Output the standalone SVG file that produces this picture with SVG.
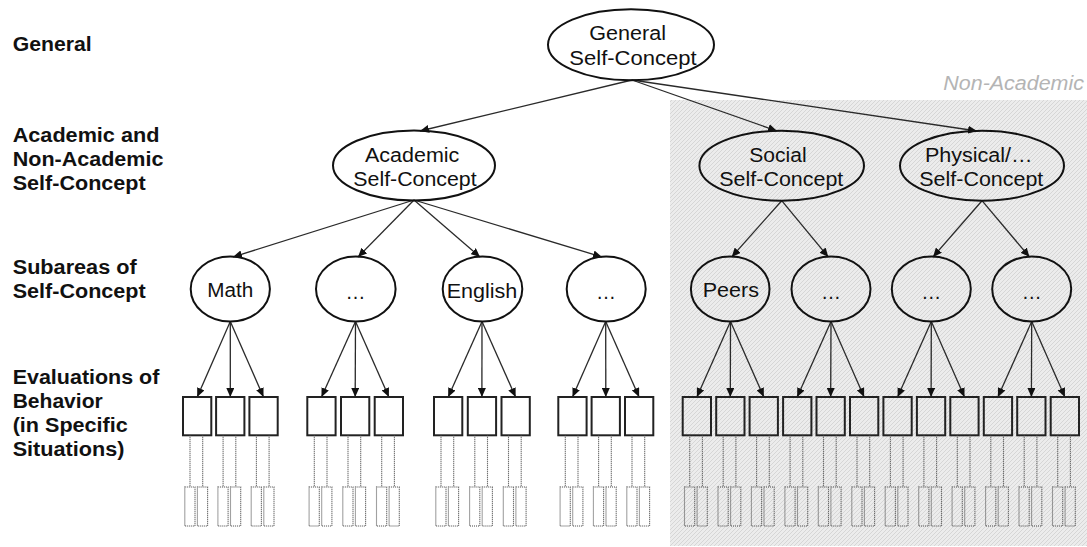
<svg xmlns="http://www.w3.org/2000/svg" xmlns:xlink="http://www.w3.org/1999/xlink" width="1087" height="547" viewBox="0 0 1087 547">
  <style>
    .lbl { font-family: "Liberation Sans", Arial, sans-serif; font-size: 20px; font-weight: bold; fill: #111; }
    .txt { font-family: "Liberation Sans", Arial, sans-serif; font-size: 20px; fill: #111; text-anchor: middle; }
    .cap { font-family: "Liberation Sans", Arial, sans-serif; font-size: 20px; font-style: italic; fill: #b4b4b4; text-anchor: end; }
    .node { fill: none; stroke: #111; stroke-width: 2; }
    .box { fill: none; stroke: #222; stroke-width: 2; }
    .dot { fill: none; stroke: #444; stroke-width: 1.1; stroke-dasharray: 1 1; }
    .edge { fill: none; stroke: #2a2a2a; stroke-width: 1.3; marker-end: url(#ah); }
  </style>
  <defs>
    <marker id="ah" markerWidth="10" markerHeight="8" refX="9" refY="4" orient="auto" markerUnits="userSpaceOnUse">
      <path d="M0,0 L9,4 L0,8 z" fill="#111"/>
    </marker>
    <pattern id="hatch" width="4" height="4" patternUnits="userSpaceOnUse">
      <rect width="4" height="4" fill="#ececec"/>
      <path d="M-1,1 l2,-2 M0,4 l4,-4 M3,5 l2,-2" stroke="#d6d6d6" stroke-width="1"/>
    </pattern>
    <!-- one behaviour evaluation: solid box plus its dotted situation boxes -->
    <g id="item">
      <rect class="box" x="0" y="397" width="28.3" height="38.3"/>
      <path class="dot" d="M7,435.3 V487 M19.7,435.3 V487"/>
      <rect class="dot" x="1.8" y="487" width="10.2" height="39"/>
      <rect class="dot" x="14.4" y="487" width="10.2" height="39"/>
    </g>
  </defs>

  <!-- non-academic background area -->
  <rect x="670" y="100" width="417" height="446" fill="url(#hatch)"/>
  <text class="cap" x="1084" y="90" textLength="140.7" lengthAdjust="spacingAndGlyphs">Non-Academic</text>

  <!-- level labels -->
  <g id="levels">
    <text class="lbl" x="12.7" y="50.7" textLength="79" lengthAdjust="spacingAndGlyphs">General</text>
    <text class="lbl" x="12.7" y="141.7" textLength="146.7" lengthAdjust="spacingAndGlyphs">Academic and</text>
    <text class="lbl" x="12.7" y="165.7" textLength="150.7" lengthAdjust="spacingAndGlyphs">Non-Academic</text>
    <text class="lbl" x="12.7" y="189.5" textLength="133" lengthAdjust="spacingAndGlyphs">Self-Concept</text>
    <text class="lbl" x="12.7" y="274" textLength="124" lengthAdjust="spacingAndGlyphs">Subareas of</text>
    <text class="lbl" x="12.7" y="297.7" textLength="133" lengthAdjust="spacingAndGlyphs">Self-Concept</text>
    <text class="lbl" x="12.7" y="384.3" textLength="146.7" lengthAdjust="spacingAndGlyphs">Evaluations of</text>
    <text class="lbl" x="12.7" y="408.3" textLength="90" lengthAdjust="spacingAndGlyphs">Behavior</text>
    <text class="lbl" x="12.7" y="432.3" textLength="115" lengthAdjust="spacingAndGlyphs">(in Specific</text>
    <text class="lbl" x="12.7" y="456" textLength="111.7" lengthAdjust="spacingAndGlyphs">Situations)</text>
  </g>

  <!-- connectors -->
  <g id="connectors">
    <path class="edge" d="M632,80 L420,131"/>
    <path class="edge" d="M632,80 L777,131"/>
    <path class="edge" d="M632,80 L977,131"/>

    <path class="edge" d="M414,200 L233,257"/>
    <path class="edge" d="M414,200 L358,257"/>
    <path class="edge" d="M414,200 L480,257"/>
    <path class="edge" d="M414,200 L602,257"/>

    <path class="edge" d="M781.7,200.7 L731.7,257"/>
    <path class="edge" d="M781.7,200.7 L828.3,257"/>
    <path class="edge" d="M982,200.7 L933,257"/>
    <path class="edge" d="M982,200.7 L1029.5,257"/>

    <!-- subarea to evaluations -->
    <path class="edge" d="M230.3,321.5 L197.2,397"/>
    <path class="edge" d="M230.3,321.5 L230.3,397"/>
    <path class="edge" d="M230.3,321.5 L263.5,397"/>
    <path class="edge" d="M355.5,321.5 L321.5,397"/>
    <path class="edge" d="M355.5,321.5 L355.2,397"/>
    <path class="edge" d="M355.5,321.5 L388.9,397"/>
    <path class="edge" d="M482,321.5 L448.2,397"/>
    <path class="edge" d="M482,321.5 L481.9,397"/>
    <path class="edge" d="M482,321.5 L515.6,397"/>
    <path class="edge" d="M605.7,321.5 L572.5,397"/>
    <path class="edge" d="M605.7,321.5 L605.8,397"/>
    <path class="edge" d="M605.7,321.5 L639.1,397"/>
    <path class="edge" d="M730.5,321.5 L696.9,397"/>
    <path class="edge" d="M730.5,321.5 L730.3,397"/>
    <path class="edge" d="M730.5,321.5 L763.8,397"/>
    <path class="edge" d="M831,321.5 L797.2,397"/>
    <path class="edge" d="M831,321.5 L830.7,397"/>
    <path class="edge" d="M831,321.5 L864.1,397"/>
    <path class="edge" d="M931.3,321.5 L897.6,397"/>
    <path class="edge" d="M931.3,321.5 L931.1,397"/>
    <path class="edge" d="M931.3,321.5 L964.5,397"/>
    <path class="edge" d="M1031.7,321.5 L997.9,397"/>
    <path class="edge" d="M1031.7,321.5 L1031.4,397"/>
    <path class="edge" d="M1031.7,321.5 L1064.9,397"/>
  </g>

  <!-- top level -->
  <g id="general">
    <ellipse class="node" cx="631" cy="44.7" rx="83" ry="35.5"/>
    <text class="txt" x="627.7" y="39.5" textLength="76.7" lengthAdjust="spacingAndGlyphs">General</text>
    <text class="txt" x="633" y="64.5" textLength="127.3" lengthAdjust="spacingAndGlyphs">Self-Concept</text>
  </g>

  <!-- second level -->
  <g id="academic">
    <ellipse class="node" cx="414" cy="165.5" rx="81" ry="35"/>
    <text class="txt" x="412.2" y="161.7" textLength="94.3" lengthAdjust="spacingAndGlyphs">Academic</text>
    <text class="txt" x="415" y="185.5" textLength="123.3" lengthAdjust="spacingAndGlyphs">Self-Concept</text>
  </g>
  <g id="social">
    <ellipse class="node" cx="781.7" cy="165.7" rx="82.3" ry="35"/>
    <text class="txt" x="778" y="161.7" textLength="57.3" lengthAdjust="spacingAndGlyphs">Social</text>
    <text class="txt" x="781.3" y="186" textLength="124" lengthAdjust="spacingAndGlyphs">Self-Concept</text>
  </g>
  <g id="physical">
    <ellipse class="node" cx="982" cy="165.7" rx="82" ry="35"/>
    <text class="txt" x="978.8" y="161.7" textLength="107.7" lengthAdjust="spacingAndGlyphs">Physical/…</text>
    <text class="txt" x="981.3" y="186" textLength="124" lengthAdjust="spacingAndGlyphs">Self-Concept</text>
  </g>

  <!-- subareas -->
  <g id="math">
    <ellipse class="node" cx="230.3" cy="289" rx="39.6" ry="32.5"/>
    <text class="txt" x="230.3" y="296.7" textLength="46" lengthAdjust="spacingAndGlyphs">Math</text>
  </g>
  <g id="acad-other-1">
    <ellipse class="node" cx="355.8" cy="289" rx="39.8" ry="32.5"/>
    <text class="txt" x="355.5" y="299">…</text>
  </g>
  <g id="english">
    <ellipse class="node" cx="482.5" cy="289" rx="39.8" ry="32.5"/>
    <text class="txt" x="482" y="298" textLength="70.7" lengthAdjust="spacingAndGlyphs">English</text>
  </g>
  <g id="acad-other-2">
    <ellipse class="node" cx="606.2" cy="289" rx="39.5" ry="32.5"/>
    <text class="txt" x="606" y="299">…</text>
  </g>
  <g id="peers">
    <ellipse class="node" cx="730.2" cy="289" rx="39.3" ry="32.5"/>
    <text class="txt" x="730.8" y="296.7" textLength="56.3" lengthAdjust="spacingAndGlyphs">Peers</text>
  </g>
  <g id="social-other">
    <ellipse class="node" cx="831" cy="289" rx="39.5" ry="32.5"/>
    <text class="txt" x="831" y="299">…</text>
  </g>
  <g id="physical-other-1">
    <ellipse class="node" cx="931.3" cy="289" rx="39.5" ry="32.5"/>
    <text class="txt" x="931.3" y="299">…</text>
  </g>
  <g id="physical-other-2">
    <ellipse class="node" cx="1031.7" cy="289" rx="39.5" ry="32.5"/>
    <text class="txt" x="1031.7" y="299">…</text>
  </g>

  <!-- evaluations of behaviour -->
  <g id="evaluations">
    <use id="ev-math-1" xlink:href="#item" x="183"/>
    <use id="ev-math-2" xlink:href="#item" x="216.1"/>
    <use id="ev-math-3" xlink:href="#item" x="249.4"/>
    <use id="ev-a1-1" xlink:href="#item" x="307.3"/>
    <use id="ev-a1-2" xlink:href="#item" x="341"/>
    <use id="ev-a1-3" xlink:href="#item" x="374.7"/>
    <use id="ev-eng-1" xlink:href="#item" x="434"/>
    <use id="ev-eng-2" xlink:href="#item" x="467.8"/>
    <use id="ev-eng-3" xlink:href="#item" x="501.5"/>
    <use id="ev-a2-1" xlink:href="#item" x="558.3"/>
    <use id="ev-a2-2" xlink:href="#item" x="591.6"/>
    <use id="ev-a2-3" xlink:href="#item" x="625"/>
    <use id="ev-peers-1" xlink:href="#item" x="682.7"/>
    <use id="ev-peers-2" xlink:href="#item" x="716.2"/>
    <use id="ev-peers-3" xlink:href="#item" x="749.6"/>
    <use id="ev-s-1" xlink:href="#item" x="783.1"/>
    <use id="ev-s-2" xlink:href="#item" x="816.5"/>
    <use id="ev-s-3" xlink:href="#item" x="850"/>
    <use id="ev-p1-1" xlink:href="#item" x="883.4"/>
    <use id="ev-p1-2" xlink:href="#item" x="916.9"/>
    <use id="ev-p1-3" xlink:href="#item" x="950.3"/>
    <use id="ev-p2-1" xlink:href="#item" x="983.8"/>
    <use id="ev-p2-2" xlink:href="#item" x="1017.2"/>
    <use id="ev-p2-3" xlink:href="#item" x="1050.7"/>
  </g>
</svg>
